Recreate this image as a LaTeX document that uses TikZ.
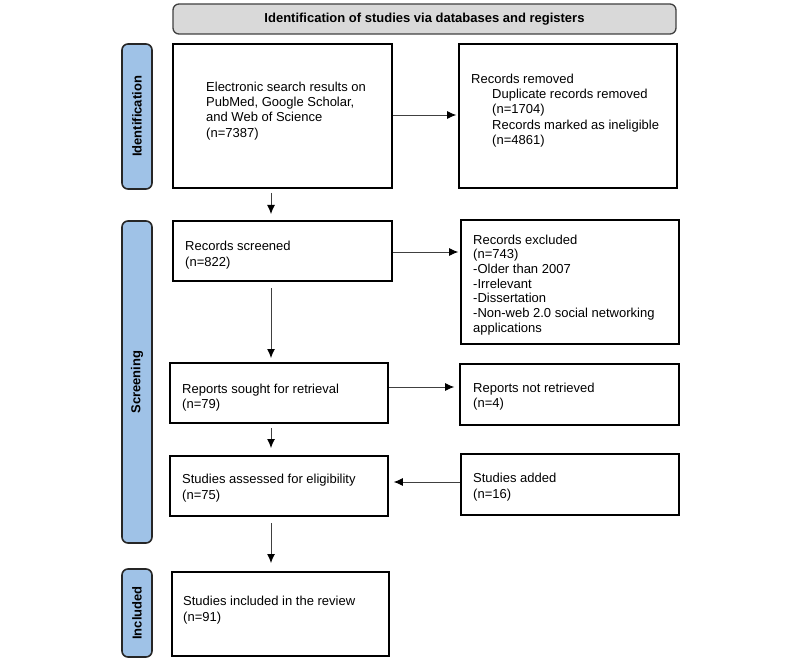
\documentclass[tikz,border=0pt]{standalone}
\usepackage{fontspec}
\setmainfont{Liberation Sans}
\usetikzlibrary{arrows.meta,calc}
\definecolor{hdrgray}{HTML}{D9D9D9}
\definecolor{sideblue}{HTML}{9FC2E7}
\tikzset{
  boxnode/.style={draw=black, line width=1.6pt, fill=white, inner sep=0pt},
  txt/.style={anchor=north west, inner sep=0pt, align=left, font=\fontsize{13}{15.3}\selectfont},
  sidenode/.style={draw=black!85, line width=1.6pt, fill=sideblue, rounded corners=6pt, inner sep=0pt, rotate=90, font=\bfseries\fontsize{13}{15}\selectfont},
  hdrnode/.style={draw=black!75, line width=1.3pt, fill=hdrgray, rounded corners=6pt, inner sep=0pt, font=\bfseries\fontsize{13}{15}\selectfont},
  arr/.style={-{Latex[length=9pt,width=8pt,black]}, line width=0.9pt, draw=black!75}
}
\newcommand{\boxat}[5]{\node[boxnode, minimum width={#3-#2}, minimum height={#5-#4}] (#1) at ({(#2+#3)/2},{(#4+#5)/2}) {};}
\begin{document}
\begin{tikzpicture}[x=1pt,y=-1pt]
\useasboundingbox (0,0) rectangle (800,663);
% header
\node[hdrnode, minimum width=503, minimum height=30] (hdr) at (424.5,19) {Identification of studies via databases and registers};
% side labels
\node[sidenode, minimum width=145, minimum height=30] (sid) at (137,116.5) {Identification};
\node[sidenode, minimum width=322, minimum height=30] (sscr) at (137,382) {Screening};
\node[sidenode, minimum width=88, minimum height=30] (sinc) at (137,613) {Included};
% boxes
\boxat{b1}{173}{392}{44}{188}
\boxat{b2}{459}{677}{44}{188}
\boxat{b3}{173}{392}{221}{281}
\boxat{b4}{461}{679}{220}{344}
\boxat{b5}{170}{388}{363}{423}
\boxat{b6}{460}{679}{364}{425}
\boxat{b7}{170}{388}{456}{516}
\boxat{b8}{461}{679}{454}{515}
\boxat{b9}{172}{389}{572}{656}
% texts
\node[txt] (t1) at (206,81.5) {Electronic search results on\\PubMed, Google Scholar,\\and Web of Science\\(n=7387)};
\node[txt] (t2) at (471,73.5) {Records removed\\\hspace{21pt}Duplicate records removed\\\hspace{21pt}(n=1704)\\\hspace{21pt}Records marked as ineligible\\\hspace{21pt}(n=4861)};
\node[txt, font=\fontsize{13}{16}\selectfont] (t3) at (185,240.5) {Records screened\\(n=822)};
\node[txt, font=\fontsize{13}{14.7}\selectfont] (t4) at (473,234.5) {Records excluded\\(n=743)\\-Older than 2007\\-Irrelevant\\-Dissertation\\-Non-web 2.0 social networking\\applications};
\node[txt] (t5) at (182,383.5) {Reports sought for retrieval\\(n=79)};
\node[txt] (t6) at (473,382.5) {Reports not retrieved\\(n=4)};
\node[txt, font=\fontsize{13}{16}\selectfont] (t7) at (182,473.5) {Studies assessed for eligibility\\(n=75)};
\node[txt, font=\fontsize{13}{16}\selectfont] (t8) at (473,472.5) {Studies added\\(n=16)};
\node[txt, font=\fontsize{13}{16}\selectfont] (t9) at (183,595.5) {Studies included in the review\\(n=91)};
% connectors
\coordinate (c1s) at (271,193);
\coordinate (c1e) at (271,214);
\coordinate (c2s) at (271,288);
\coordinate (c2e) at (271,358);
\coordinate (c3s) at (271,428);
\coordinate (c3e) at (271,448);
\coordinate (c4s) at (271,523);
\coordinate (c4e) at (271,563);
\draw[arr] (b1.east |- 0,115) -- ($(b2.west |- 0,115)+(-2,0)$);
\draw[arr] (c1s) -- (c1e);
\draw[arr] (b3.east |- 0,252) -- ($(b4.west |- 0,252)+(-2,0)$);
\draw[arr] (c2s) -- (c2e);
\draw[arr] (b5.east |- 0,387) -- ($(b6.west |- 0,387)+(-5,0)$);
\draw[arr] (c3s) -- (c3e);
\draw[arr] (b8.west |- 0,482) -- ($(b7.east |- 0,482)+(5,0)$);
\draw[arr] (c4s) -- (c4e);
\end{tikzpicture}
\end{document}
